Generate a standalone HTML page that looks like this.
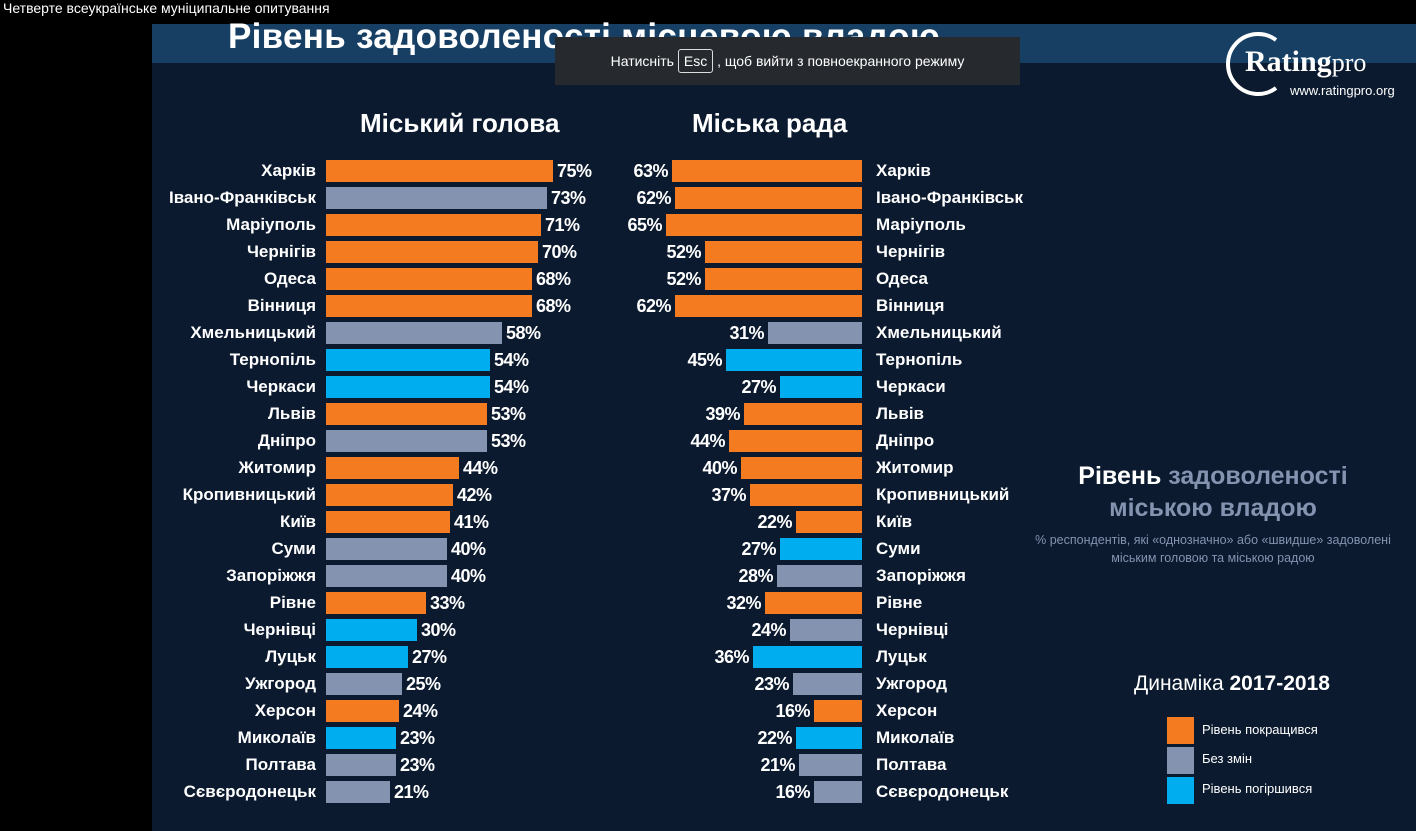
<!DOCTYPE html>
<html><head><meta charset="utf-8"><style>
body{margin:0;width:1416px;height:831px;background:#000;position:relative;overflow:hidden;font-family:"Liberation Sans","DejaVu Sans",sans-serif;}
.top{position:absolute;left:0;top:0;width:1416px;height:17px;background:#000;color:#fff;font-size:14px;line-height:16px;padding-left:3px;z-index:5;}
.main{position:absolute;left:152px;top:24px;width:1264px;height:807px;background:#0b1a2e;}
.band{position:absolute;left:152px;top:24px;width:1264px;height:39px;background:#163f63;}
.title{position:absolute;left:228px;top:17px;color:#fff;font-weight:bold;font-size:35px;letter-spacing:0.3px;white-space:nowrap;}
.toast{position:absolute;left:555px;top:37px;width:465px;height:48px;background:#262a2f;color:#fff;font-size:14px;line-height:48px;text-align:center;}
.toast span{border:1px solid #ddd;border-radius:3px;padding:3px 5px;}
.h{position:absolute;color:#fff;font-weight:bold;font-size:26px;}
.row{position:absolute;height:22px;}
.lab{color:#fff;font-weight:bold;font-size:17px;line-height:22px;white-space:nowrap;position:absolute;}
.L{left:0;width:316px;text-align:right;}
.R{left:876px;}
.bl{position:absolute;left:326px;display:flex;align-items:center;gap:4px;}
.br{position:absolute;right:554px;display:flex;align-items:center;gap:4px;}
.bl i,.br i{display:block;height:22px;}
.p{color:#fff;font-weight:bold;font-size:18px;line-height:22px;letter-spacing:-0.5px;}
.o{background:#f47b20}.g{background:#8393b0}.b{background:#00aeef}
</style></head><body>
<div class="top">Четверте всеукраїнське муніципальне опитування</div>
<div class="main"></div>
<div class="band"></div>
<div class="title">Рівень задоволеності місцевою владою</div>
<div class="toast">Натисніть <span>Esc</span> , щоб вийти з повноекранного режиму</div>
<svg style="position:absolute;left:1224px;top:30px" width="70" height="66"><path d="M52 10 A30 30 0 1 0 52 58" fill="none" stroke="#fff" stroke-width="4"/></svg>
<div style="position:absolute;left:1245px;top:45px;color:#fff;font-size:30px;font-family:'Liberation Serif',serif;font-weight:bold;">Rating<span style="font-weight:normal;font-size:26px">pro</span></div>
<div style="position:absolute;left:1290px;top:83px;color:#fff;font-size:13px;">www.ratingpro.org</div>
<div class="h" style="left:360px;top:108px">Міський голова</div>
<div class="h" style="left:692px;top:108px">Міська рада</div>

<div class="row" style="top:160px;left:0;width:1416px"><div class="lab L">Харків</div><div class="bl"><i class="o" style="width:227px"></i><span class="p">75%</span></div><div class="br"><span class="p">63%</span><i class="o" style="width:190px"></i></div><div class="lab R">Харків</div></div>
<div class="row" style="top:187px;left:0;width:1416px"><div class="lab L">Івано-Франківськ</div><div class="bl"><i class="g" style="width:221px"></i><span class="p">73%</span></div><div class="br"><span class="p">62%</span><i class="o" style="width:187px"></i></div><div class="lab R">Івано-Франківськ</div></div>
<div class="row" style="top:214px;left:0;width:1416px"><div class="lab L">Маріуполь</div><div class="bl"><i class="o" style="width:215px"></i><span class="p">71%</span></div><div class="br"><span class="p">65%</span><i class="o" style="width:196px"></i></div><div class="lab R">Маріуполь</div></div>
<div class="row" style="top:241px;left:0;width:1416px"><div class="lab L">Чернігів</div><div class="bl"><i class="o" style="width:212px"></i><span class="p">70%</span></div><div class="br"><span class="p">52%</span><i class="o" style="width:157px"></i></div><div class="lab R">Чернігів</div></div>
<div class="row" style="top:268px;left:0;width:1416px"><div class="lab L">Одеса</div><div class="bl"><i class="o" style="width:206px"></i><span class="p">68%</span></div><div class="br"><span class="p">52%</span><i class="o" style="width:157px"></i></div><div class="lab R">Одеса</div></div>
<div class="row" style="top:295px;left:0;width:1416px"><div class="lab L">Вінниця</div><div class="bl"><i class="o" style="width:206px"></i><span class="p">68%</span></div><div class="br"><span class="p">62%</span><i class="o" style="width:187px"></i></div><div class="lab R">Вінниця</div></div>
<div class="row" style="top:322px;left:0;width:1416px"><div class="lab L">Хмельницький</div><div class="bl"><i class="g" style="width:176px"></i><span class="p">58%</span></div><div class="br"><span class="p">31%</span><i class="g" style="width:94px"></i></div><div class="lab R">Хмельницький</div></div>
<div class="row" style="top:349px;left:0;width:1416px"><div class="lab L">Тернопіль</div><div class="bl"><i class="b" style="width:164px"></i><span class="p">54%</span></div><div class="br"><span class="p">45%</span><i class="b" style="width:136px"></i></div><div class="lab R">Тернопіль</div></div>
<div class="row" style="top:376px;left:0;width:1416px"><div class="lab L">Черкаси</div><div class="bl"><i class="b" style="width:164px"></i><span class="p">54%</span></div><div class="br"><span class="p">27%</span><i class="b" style="width:82px"></i></div><div class="lab R">Черкаси</div></div>
<div class="row" style="top:403px;left:0;width:1416px"><div class="lab L">Львів</div><div class="bl"><i class="o" style="width:161px"></i><span class="p">53%</span></div><div class="br"><span class="p">39%</span><i class="o" style="width:118px"></i></div><div class="lab R">Львів</div></div>
<div class="row" style="top:430px;left:0;width:1416px"><div class="lab L">Дніпро</div><div class="bl"><i class="g" style="width:161px"></i><span class="p">53%</span></div><div class="br"><span class="p">44%</span><i class="o" style="width:133px"></i></div><div class="lab R">Дніпро</div></div>
<div class="row" style="top:457px;left:0;width:1416px"><div class="lab L">Житомир</div><div class="bl"><i class="o" style="width:133px"></i><span class="p">44%</span></div><div class="br"><span class="p">40%</span><i class="o" style="width:121px"></i></div><div class="lab R">Житомир</div></div>
<div class="row" style="top:484px;left:0;width:1416px"><div class="lab L">Кропивницький</div><div class="bl"><i class="o" style="width:127px"></i><span class="p">42%</span></div><div class="br"><span class="p">37%</span><i class="o" style="width:112px"></i></div><div class="lab R">Кропивницький</div></div>
<div class="row" style="top:511px;left:0;width:1416px"><div class="lab L">Київ</div><div class="bl"><i class="o" style="width:124px"></i><span class="p">41%</span></div><div class="br"><span class="p">22%</span><i class="o" style="width:66px"></i></div><div class="lab R">Київ</div></div>
<div class="row" style="top:538px;left:0;width:1416px"><div class="lab L">Суми</div><div class="bl"><i class="g" style="width:121px"></i><span class="p">40%</span></div><div class="br"><span class="p">27%</span><i class="b" style="width:82px"></i></div><div class="lab R">Суми</div></div>
<div class="row" style="top:565px;left:0;width:1416px"><div class="lab L">Запоріжжя</div><div class="bl"><i class="g" style="width:121px"></i><span class="p">40%</span></div><div class="br"><span class="p">28%</span><i class="g" style="width:85px"></i></div><div class="lab R">Запоріжжя</div></div>
<div class="row" style="top:592px;left:0;width:1416px"><div class="lab L">Рівне</div><div class="bl"><i class="o" style="width:100px"></i><span class="p">33%</span></div><div class="br"><span class="p">32%</span><i class="o" style="width:97px"></i></div><div class="lab R">Рівне</div></div>
<div class="row" style="top:619px;left:0;width:1416px"><div class="lab L">Чернівці</div><div class="bl"><i class="b" style="width:91px"></i><span class="p">30%</span></div><div class="br"><span class="p">24%</span><i class="g" style="width:72px"></i></div><div class="lab R">Чернівці</div></div>
<div class="row" style="top:646px;left:0;width:1416px"><div class="lab L">Луцьк</div><div class="bl"><i class="b" style="width:82px"></i><span class="p">27%</span></div><div class="br"><span class="p">36%</span><i class="b" style="width:109px"></i></div><div class="lab R">Луцьк</div></div>
<div class="row" style="top:673px;left:0;width:1416px"><div class="lab L">Ужгород</div><div class="bl"><i class="g" style="width:76px"></i><span class="p">25%</span></div><div class="br"><span class="p">23%</span><i class="g" style="width:69px"></i></div><div class="lab R">Ужгород</div></div>
<div class="row" style="top:700px;left:0;width:1416px"><div class="lab L">Херсон</div><div class="bl"><i class="o" style="width:73px"></i><span class="p">24%</span></div><div class="br"><span class="p">16%</span><i class="o" style="width:48px"></i></div><div class="lab R">Херсон</div></div>
<div class="row" style="top:727px;left:0;width:1416px"><div class="lab L">Миколаїв</div><div class="bl"><i class="b" style="width:70px"></i><span class="p">23%</span></div><div class="br"><span class="p">22%</span><i class="b" style="width:66px"></i></div><div class="lab R">Миколаїв</div></div>
<div class="row" style="top:754px;left:0;width:1416px"><div class="lab L">Полтава</div><div class="bl"><i class="g" style="width:70px"></i><span class="p">23%</span></div><div class="br"><span class="p">21%</span><i class="g" style="width:63px"></i></div><div class="lab R">Полтава</div></div>
<div class="row" style="top:781px;left:0;width:1416px"><div class="lab L">Сєвєродонецьк</div><div class="bl"><i class="g" style="width:64px"></i><span class="p">21%</span></div><div class="br"><span class="p">16%</span><i class="g" style="width:48px"></i></div><div class="lab R">Сєвєродонецьк</div></div>

<div style="position:absolute;left:1010px;top:460px;width:406px;text-align:center;font-weight:bold;font-size:25px;line-height:32px;color:#8393b0"><span style="color:#fff">Рівень</span> задоволеності<br>міською владою</div>
<div style="position:absolute;left:1010px;top:531px;width:406px;text-align:center;font-size:12.5px;line-height:18px;color:#8393b0">% респондентів, які «однозначно» або «швидше» задоволені<br>міським головою та міською радою</div>
<div style="position:absolute;left:1134px;top:672px;color:#fff;font-size:21px;">Динаміка <b>2017-2018</b></div>
<div style="position:absolute;left:1167px;top:717px;width:27px;height:27px" class="o"></div>
<div style="position:absolute;left:1167px;top:747px;width:27px;height:27px" class="g"></div>
<div style="position:absolute;left:1167px;top:777px;width:27px;height:27px" class="b"></div>
<div style="position:absolute;left:1202px;top:722px;color:#fff;font-size:13px">Рівень покращився</div>
<div style="position:absolute;left:1202px;top:751px;color:#fff;font-size:13px">Без змін</div>
<div style="position:absolute;left:1202px;top:781px;color:#fff;font-size:13px">Рівень погіршився</div>
</body></html>
